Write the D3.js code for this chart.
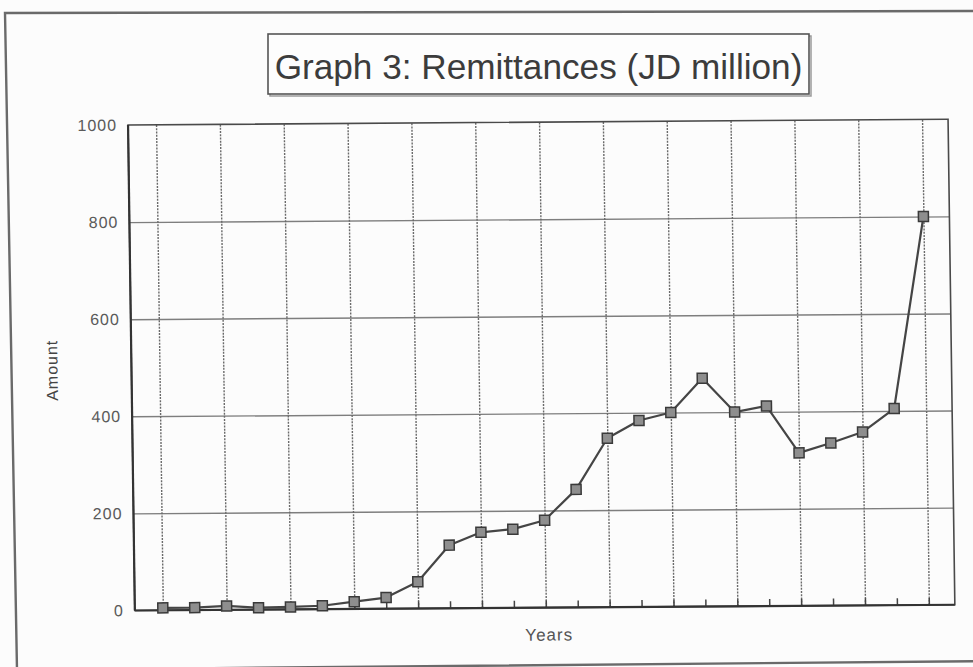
<!DOCTYPE html>
<html>
<head>
<meta charset="utf-8">
<script src="https://cdn.jsdelivr.net/npm/d3@7"></script>
<style>
  html, body { margin: 0; padding: 0; background: #fcfcfc; }
  svg { display: block; font-family: Arial, "Liberation Sans", sans-serif; }
</style>
</head>
<body>
<svg id="chart" width="973" height="667"></svg>
<script>
// Workers' remittances, JD million, one value per year
const years = [1968, 1969, 1970, 1971, 1972, 1973, 1974, 1975, 1976, 1977, 1978, 1979, 1980,
               1981, 1982, 1983, 1984, 1985, 1986, 1987, 1988, 1989, 1990, 1991, 1992];
const remittances = [5, 5, 8, 4, 5, 7, 15, 23, 55, 130, 156, 162, 180,
                     243, 348, 384, 400, 470, 400, 412, 315, 335, 357, 405, 800];
const yTicks = [0, 200, 400, 600, 800, 1000];

const titleText = "Graph 3: Remittances (JD million)";
const xLabel = "Years";
const yLabel = "Amount";

const svg = d3.select("#chart");

// outer page frame
svg.append("path")
  .attr("d", d3.line()([[5, 13], [995, 11], [995, 661], [17, 670]]) + "Z")
  .attr("fill", "none")
  .attr("stroke", "#6a6a6a")
  .attr("stroke-width", 2.4);

// plot region
const L = 131, R = 951, T = 122.5, B = 608;

// slight shear of the printed page
const sx = 0.014, sy = -0.007, cx = 486, cy = 333;
const g = svg.append("g")
  .attr("transform", `matrix(1, ${sy}, ${sx}, 1, ${-sx * cy}, ${-sy * cx})`);

const x = d3.scalePoint().domain(years).range([L + 28, R - 26]);
const y = d3.scaleLinear().domain([0, 1000]).range([B, T]);

// horizontal gridlines
g.append("g")
  .attr("transform", `translate(${L},0)`)
  .call(d3.axisLeft(y).tickValues(yTicks.slice(1, -1)).tickSize(-(R - L)).tickFormat(""))
  .call(a => a.select(".domain").remove())
  .call(a => a.selectAll("line").attr("stroke", "#7e7e7e").attr("stroke-width", 1.4));

// vertical gridlines on every second year
g.append("g")
  .attr("transform", `translate(0,${B})`)
  .call(d3.axisBottom(x).tickValues(years.filter((d, i) => i % 2 === 0)).tickSize(-(B - T)).tickFormat(""))
  .call(a => a.select(".domain").remove())
  .call(a => a.selectAll("line").attr("stroke", "#6a6a6a").attr("stroke-width", 1.4)
    .attr("stroke-dasharray", "2,1.2"));

// small year ticks along the bottom axis
g.append("g")
  .attr("transform", `translate(0,${B})`)
  .call(d3.axisBottom(x).tickSize(-7).tickFormat(""))
  .call(a => a.select(".domain").remove())
  .call(a => a.selectAll("line").attr("stroke", "#444").attr("stroke-width", 1.5));

// plot border
g.append("rect")
  .attr("x", L).attr("y", T).attr("width", R - L).attr("height", B - T)
  .attr("fill", "none").attr("stroke", "#4a4a4a").attr("stroke-width", 1.6);
g.append("line").attr("x1", L).attr("x2", L).attr("y1", T).attr("y2", B)
  .attr("stroke", "#333").attr("stroke-width", 2.2);
g.append("line").attr("x1", L).attr("x2", R).attr("y1", B).attr("y2", B)
  .attr("stroke", "#333").attr("stroke-width", 2.2);

// y tick labels
g.append("g")
  .attr("transform", `translate(${L},0)`)
  .call(d3.axisLeft(y).tickValues(yTicks).tickSize(0).tickPadding(11).tickFormat(d3.format("d")))
  .call(a => a.select(".domain").remove())
  .call(a => a.selectAll("text")
    .attr("font-size", 16).attr("fill", "#5a5a5a")
    .attr("letter-spacing", 1).attr("font-family", "Arial, 'Liberation Sans', sans-serif"));

// the series
g.append("path")
  .datum(remittances)
  .attr("fill", "none")
  .attr("stroke", "#454545")
  .attr("stroke-width", 2.2)
  .attr("stroke-linejoin", "round")
  .attr("d", d3.line().x((d, i) => x(years[i])).y(d => y(d)));

const ms = 10;
g.append("g").selectAll("rect")
  .data(remittances)
  .join("rect")
  .attr("x", (d, i) => x(years[i]) - ms / 2)
  .attr("y", d => y(d) - ms / 2)
  .attr("width", ms).attr("height", ms)
  .attr("fill", "#8e8e8e")
  .attr("stroke", "#3a3a3a")
  .attr("stroke-width", 1.5);

// axis titles
g.append("text")
  .attr("x", (L + R) / 2 + 4).attr("y", 641)
  .attr("text-anchor", "middle")
  .attr("font-size", 17).attr("letter-spacing", 1)
  .attr("fill", "#555")
  .text(xLabel);

g.append("text")
  .attr("transform", `translate(57,${(T + B) / 2 + 2}) rotate(-90)`)
  .attr("text-anchor", "middle")
  .attr("font-size", 16).attr("letter-spacing", 1)
  .attr("fill", "#444")
  .text(yLabel);

// boxed title
const tb = { x0: 268, x1: 809, y0: 34, y1: 94 };
svg.append("rect")
  .attr("x", tb.x0 + 2).attr("y", tb.y0 + 2)
  .attr("width", tb.x1 - tb.x0).attr("height", tb.y1 - tb.y0)
  .attr("fill", "none").attr("stroke", "#9a9a9a").attr("stroke-width", 1.5);
svg.append("rect")
  .attr("x", tb.x0).attr("y", tb.y0)
  .attr("width", tb.x1 - tb.x0).attr("height", tb.y1 - tb.y0)
  .attr("fill", "#fdfdfd").attr("stroke", "#555").attr("stroke-width", 1.6);
const title = svg.append("text")
  .attr("x", (tb.x0 + tb.x1) / 2).attr("y", 79)
  .attr("text-anchor", "middle")
  .attr("font-size", 33)
  .attr("fill", "#3c3c3c")
  .text(titleText);
// fit the title inside its box
const tw = title.node().getComputedTextLength();
title.attr("font-size", 33 * 528 / tw);
</script>
</body>
</html>
